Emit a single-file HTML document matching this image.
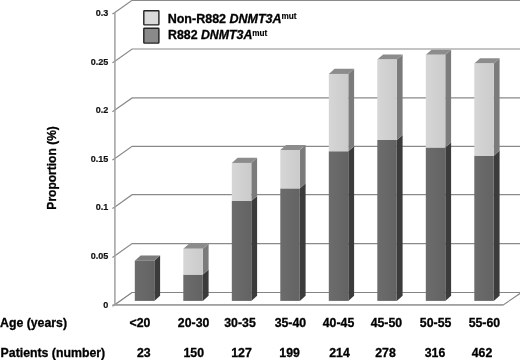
<!DOCTYPE html>
<html><head><meta charset="utf-8"><title>Figure</title>
<style>html,body{margin:0;padding:0;background:#fff;}body{width:520px;height:360px;overflow:hidden;}</style>
</head><body>
<svg width="520" height="360" viewBox="0 0 520 360" style="display:block">
<defs><linearGradient id="gl" x1="0" x2="1" y1="0" y2="0"><stop offset="0" stop-color="#d6d6d6"/><stop offset="1" stop-color="#cbcbcb"/></linearGradient><linearGradient id="gd" x1="0" x2="1" y1="0" y2="0"><stop offset="0" stop-color="#6c6c6c"/><stop offset="1" stop-color="#636363"/></linearGradient></defs>
<rect width="520" height="360" fill="#fff"/>
<g fill="none" stroke="#8a8a8a" stroke-width="1.2"><polyline points="112.4,306.30 114.9,304.70 132.1,292.50 521,292.50"/><polyline points="112.4,257.40 114.9,255.80 132.1,243.60 521,243.60"/><polyline points="112.4,208.50 114.9,206.90 132.1,194.70 521,194.70"/><polyline points="112.4,160.10 114.9,158.50 132.1,146.30 521,146.30"/><polyline points="112.4,111.70 114.9,110.10 132.1,97.90 521,97.90"/><polyline points="112.4,62.80 114.9,61.20 132.1,49.00 521,49.00"/><polyline points="112.4,14.10 114.9,12.50 132.1,0.30 521,0.30"/></g>
<line x1="114.9" y1="12.4" x2="114.9" y2="304.8" stroke="#a0a0a0" stroke-width="1.5"/>
<polygon points="114.9,304.7 132.1,292.5 521.5,292.5 503.6,304.7" fill="#fff" stroke="#858585" stroke-width="1.1"/>
<line x1="112.4" y1="305.0" x2="503.4" y2="305.0" stroke="#a0a0a0" stroke-width="1.5"/>
<polygon points="154.3,260.7 160.10000000000002,255.6 160.10000000000002,295.79999999999995 154.3,300.9" fill="#3b3b3b"/>
<polygon points="134.8,260.7 140.60000000000002,255.6 160.10000000000002,255.6 154.3,260.7" fill="#7c7c7c"/>
<rect x="134.8" y="260.7" width="19.5" height="40.19999999999999" fill="url(#gd)"/>
<polygon points="202.8,274.6 208.60000000000002,269.5 208.60000000000002,295.79999999999995 202.8,300.9" fill="#3b3b3b"/>
<polygon points="202.8,248.8 208.60000000000002,243.70000000000002 208.60000000000002,269.5 202.8,274.6" fill="#7b7b7b"/>
<polygon points="183.3,248.8 189.10000000000002,243.70000000000002 208.60000000000002,243.70000000000002 202.8,248.8" fill="#8c8c8c"/>
<rect x="183.3" y="274.6" width="19.5" height="26.299999999999955" fill="url(#gd)"/>
<rect x="183.3" y="248.8" width="19.5" height="25.80000000000001" fill="url(#gl)"/>
<polygon points="251.3,201.0 257.1,195.9 257.1,295.79999999999995 251.3,300.9" fill="#3b3b3b"/>
<polygon points="251.3,162.9 257.1,157.8 257.1,195.9 251.3,201.0" fill="#7b7b7b"/>
<polygon points="231.8,162.9 237.60000000000002,157.8 257.1,157.8 251.3,162.9" fill="#8c8c8c"/>
<rect x="231.8" y="201.0" width="19.5" height="99.89999999999998" fill="url(#gd)"/>
<rect x="231.8" y="162.9" width="19.5" height="38.099999999999994" fill="url(#gl)"/>
<polygon points="299.8,188.4 305.6,183.3 305.6,295.79999999999995 299.8,300.9" fill="#3b3b3b"/>
<polygon points="299.8,150 305.6,144.9 305.6,183.3 299.8,188.4" fill="#7b7b7b"/>
<polygon points="280.3,150 286.1,144.9 305.6,144.9 299.8,150" fill="#8c8c8c"/>
<rect x="280.3" y="188.4" width="19.5" height="112.49999999999997" fill="url(#gd)"/>
<rect x="280.3" y="150" width="19.5" height="38.400000000000006" fill="url(#gl)"/>
<polygon points="348.3,151.25 354.1,146.15 354.1,295.79999999999995 348.3,300.9" fill="#3b3b3b"/>
<polygon points="348.3,73.9 354.1,68.80000000000001 354.1,146.15 348.3,151.25" fill="#7b7b7b"/>
<polygon points="328.8,73.9 334.6,68.80000000000001 354.1,68.80000000000001 348.3,73.9" fill="#8c8c8c"/>
<rect x="328.8" y="151.25" width="19.5" height="149.64999999999998" fill="url(#gd)"/>
<rect x="328.8" y="73.9" width="19.5" height="77.35" fill="url(#gl)"/>
<polygon points="396.8,140 402.6,134.9 402.6,295.79999999999995 396.8,300.9" fill="#3b3b3b"/>
<polygon points="396.8,59.6 402.6,54.5 402.6,134.9 396.8,140" fill="#7b7b7b"/>
<polygon points="377.3,59.6 383.1,54.5 402.6,54.5 396.8,59.6" fill="#8c8c8c"/>
<rect x="377.3" y="140" width="19.5" height="160.89999999999998" fill="url(#gd)"/>
<rect x="377.3" y="59.6" width="19.5" height="80.4" fill="url(#gl)"/>
<polygon points="445.3,147.5 451.1,142.4 451.1,295.79999999999995 445.3,300.9" fill="#3b3b3b"/>
<polygon points="445.3,54.8 451.1,49.699999999999996 451.1,142.4 445.3,147.5" fill="#7b7b7b"/>
<polygon points="425.8,54.8 431.6,49.699999999999996 451.1,49.699999999999996 445.3,54.8" fill="#8c8c8c"/>
<rect x="425.8" y="147.5" width="19.5" height="153.39999999999998" fill="url(#gd)"/>
<rect x="425.8" y="54.8" width="19.5" height="92.7" fill="url(#gl)"/>
<polygon points="493.8,155.7 499.6,150.6 499.6,295.79999999999995 493.8,300.9" fill="#3b3b3b"/>
<polygon points="493.8,63.4 499.6,58.3 499.6,150.6 493.8,155.7" fill="#7b7b7b"/>
<polygon points="474.3,63.4 480.1,58.3 499.6,58.3 493.8,63.4" fill="#8c8c8c"/>
<rect x="474.3" y="155.7" width="19.5" height="145.2" fill="url(#gd)"/>
<rect x="474.3" y="63.4" width="19.5" height="92.29999999999998" fill="url(#gl)"/>
<rect x="143.8" y="10.7" width="15.1" height="14.2" rx="0.6" fill="#d9d9d9" stroke="#222" stroke-width="1.4"/>
<rect x="143.8" y="28.2" width="15.1" height="14.9" rx="0.6" fill="#8a8a8a" stroke="#222" stroke-width="1.4"/>
<g font-family="'Liberation Sans', Arial, sans-serif" font-weight="bold" font-size="12.3" fill="#000" stroke="#000" stroke-width="0.3">
<text x="167.7" y="22.6" font-size="12.5">Non-R882 <tspan font-style="italic">DNMT3A</tspan><tspan font-weight="bold" font-size="8.2" dy="-3.9" dx="-0.2" stroke-width="0.15">mut</tspan></text>
<text x="168" y="39.4" font-size="12.35">R882 <tspan font-style="italic">DNMT3A</tspan><tspan font-weight="bold" font-size="8.2" dy="-3.1" dx="-0.2" stroke-width="0.15">mut</tspan></text>
<text transform="translate(55.9,167.9) rotate(-90) scale(0.925,1)" text-anchor="middle" font-size="13">Proportion (%)</text>
<text x="0" y="327.4">Age (years)</text>
<text x="0.6" y="357.4">Patients (number)</text>
<text x="140" y="327.2" text-anchor="middle">&lt;20</text>
<text x="193.6" y="327.2" text-anchor="middle">20-30</text>
<text x="240" y="327.2" text-anchor="middle">30-35</text>
<text x="290.4" y="327.2" text-anchor="middle">35-40</text>
<text x="338.5" y="327.2" text-anchor="middle">40-45</text>
<text x="386.4" y="327.2" text-anchor="middle">45-50</text>
<text x="435.6" y="327.2" text-anchor="middle">50-55</text>
<text x="484.4" y="327.2" text-anchor="middle">55-60</text>
<text x="143.75" y="357.3" text-anchor="middle">23</text>
<text x="193.75" y="357.3" text-anchor="middle">150</text>
<text x="241.5" y="357.3" text-anchor="middle">127</text>
<text x="289.6" y="357.3" text-anchor="middle">199</text>
<text x="339.5" y="357.3" text-anchor="middle">214</text>
<text x="385.5" y="357.3" text-anchor="middle">278</text>
<text x="435" y="357.3" text-anchor="middle">316</text>
<text x="482" y="357.3" text-anchor="middle">462</text>
</g>
<g font-family="'Liberation Sans', Arial, sans-serif" font-weight="bold" font-size="9.9" fill="#111" stroke="#111" stroke-width="0.2" text-anchor="end">
<text transform="translate(108.3,308.00) scale(0.915,1)">0</text>
<text transform="translate(108.3,259.10) scale(0.915,1)">0.05</text>
<text transform="translate(108.3,210.20) scale(0.915,1)">0.1</text>
<text transform="translate(108.3,161.80) scale(0.915,1)">0.15</text>
<text transform="translate(108.3,113.40) scale(0.915,1)">0.2</text>
<text transform="translate(108.3,64.50) scale(0.915,1)">0.25</text>
<text transform="translate(108.3,16.40) scale(0.915,1)">0.3</text>
</g>
</svg>
</body></html>
